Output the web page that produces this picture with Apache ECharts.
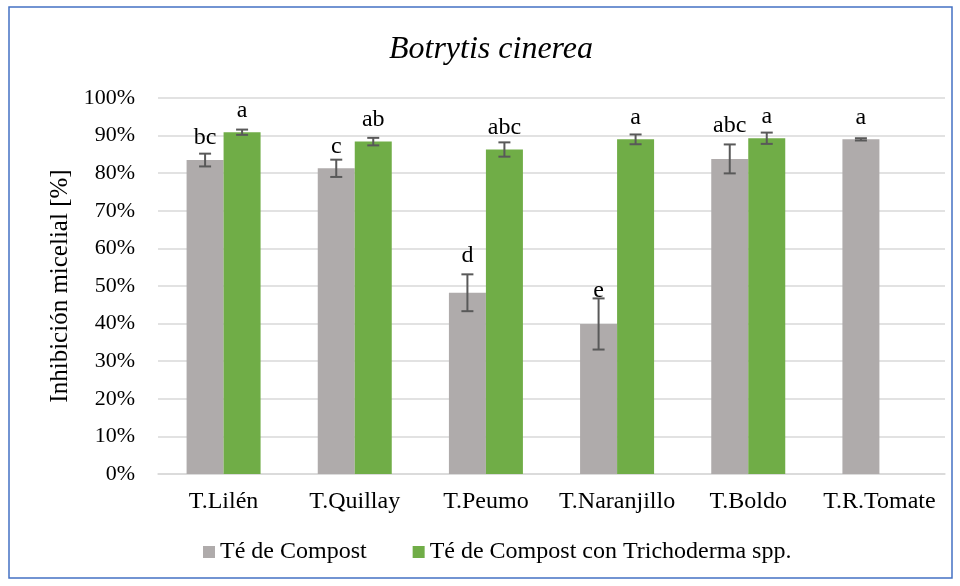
<!DOCTYPE html>
<html>
<head>
<meta charset="utf-8">
<script src="https://cdn.jsdelivr.net/npm/echarts@6/dist/echarts.min.js"></script>
<style>
  html, body { margin: 0; padding: 0; background: #fff; }
  #chart { width: 960px; height: 586px; }
</style>
</head>
<body>
<div id="chart"></div>
<script>
const categories = ['T.Lilén', 'T.Quillay', 'T.Peumo', 'T.Naranjillo', 'T.Boldo', 'T.R.Tomate']
const seriesNames = ['Té de Compost', 'Té de Compost con Trichoderma spp.']
const compost = [83.5, 81.3, 48.2, 39.9, 83.8, 89.0]
const compostErr = [1.7, 2.3, 4.9, 6.8, 3.85, 0.3]
const compostLetters = ['bc', 'c', 'd', 'e', 'abc', 'a']
const tricho = [90.9, 88.4, 86.3, 89.0, 89.3, null]
const trichoErr = [0.7, 1.0, 1.9, 1.3, 1.5, null]
const trichoLetters = ['a', 'ab', 'abc', 'a', 'a', '']

const serif = '"Liberation Serif", "DejaVu Serif", serif'
const colors = ['#AFABAB', '#70AD47']
const barW = 37
// manual label shifts (px) for letters that sit higher/lower than default
const compostLabelShift = [0, 0, -15, -11, -11, 0]

const chart = echarts.init(document.getElementById('chart'))

function errSeries(values, errs, side) {
  return {
    type: 'custom',
    z: 5,
    data: values.map((v, i) => [i, v, errs[i]]),
    renderItem: function (params, api) {
      const v = api.value(1)
      const e = api.value(2)
      if (v == null || isNaN(v)) return
      const c = api.coord([api.value(0), v])
      const x = c[0] + side * barW / 2
      const top = api.coord([api.value(0), v + e])[1]
      const bot = api.coord([api.value(0), v - e])[1]
      const st = { stroke: '#595959', lineWidth: 2 }
      return {
        type: 'group',
        children: [
          { type: 'line', shape: { x1: x, y1: top, x2: x, y2: bot }, style: st },
          { type: 'line', shape: { x1: x - 6, y1: top, x2: x + 6, y2: top }, style: st },
          { type: 'line', shape: { x1: x - 6, y1: bot, x2: x + 6, y2: bot }, style: st }
        ]
      }
    }
  }
}

function barData(values, letters, shifts) {
  return values.map((v, i) => ({
    value: v,
    label: {
      formatter: letters[i],
      offset: [0, shifts ? shifts[i] : 0]
    }
  }))
}

const barLabel = {
  show: true,
  position: 'top',
  distance: 10,
  fontFamily: serif,
  fontSize: 24,
  color: '#000'
}

const option = {
  animation: false,
  color: colors,
  title: {
    text: 'Botrytis cinerea',
    left: 486,
    textAlign: 'center',
    top: 29,
    textStyle: {
      fontFamily: serif,
      fontStyle: 'italic',
      fontWeight: 'normal',
      fontSize: 32,
      color: '#000'
    }
  },
  graphic: [
    {
      type: 'rect',
      shape: { x: 9, y: 7, width: 943, height: 571 },
      style: { fill: 'none', stroke: '#4472C4', lineWidth: 1.5 },
      silent: true
    }
  ],
  legend: {
    top: 535,
    left: 198,
    itemWidth: 12,
    itemHeight: 12,
    itemGap: 46,
    icon: 'rect',
    textStyle: { fontFamily: serif, fontSize: 24, color: '#000' },
    data: seriesNames
  },
  grid: {
    left: 158,
    right: 15,
    top: 98,
    bottom: 112
  },
  xAxis: {
    type: 'category',
    data: categories,
    axisTick: { show: false },
    axisLine: { lineStyle: { color: '#d9d9d9', width: 1.5 } },
    axisLabel: { fontFamily: serif, fontSize: 24, color: '#000', margin: 16, interval: 0 }
  },
  yAxis: {
    type: 'value',
    min: 0,
    max: 100,
    interval: 10,
    name: 'Inhibición micelial [%]',
    nameLocation: 'middle',
    nameGap: 80,
    nameTextStyle: { fontFamily: serif, fontSize: 25, color: '#000' },
    axisLabel: { fontFamily: serif, fontSize: 22, color: '#000', formatter: '{value}%', margin: 23 },
    splitLine: { lineStyle: { color: '#d9d9d9', width: 1.5 } },
    axisLine: { show: false },
    axisTick: { show: false }
  },
  series: [
    {
      name: seriesNames[0],
      type: 'bar',
      barWidth: barW,
      barGap: '0%',
      data: barData(compost, compostLetters, compostLabelShift),
      label: barLabel
    },
    {
      name: seriesNames[1],
      type: 'bar',
      barWidth: barW,
      barGap: '0%',
      data: barData(tricho, trichoLetters),
      label: barLabel
    },
    errSeries(compost, compostErr, -1),
    errSeries(tricho, trichoErr, 1)
  ]
}

chart.setOption(option)
</script>
</body>
</html>
